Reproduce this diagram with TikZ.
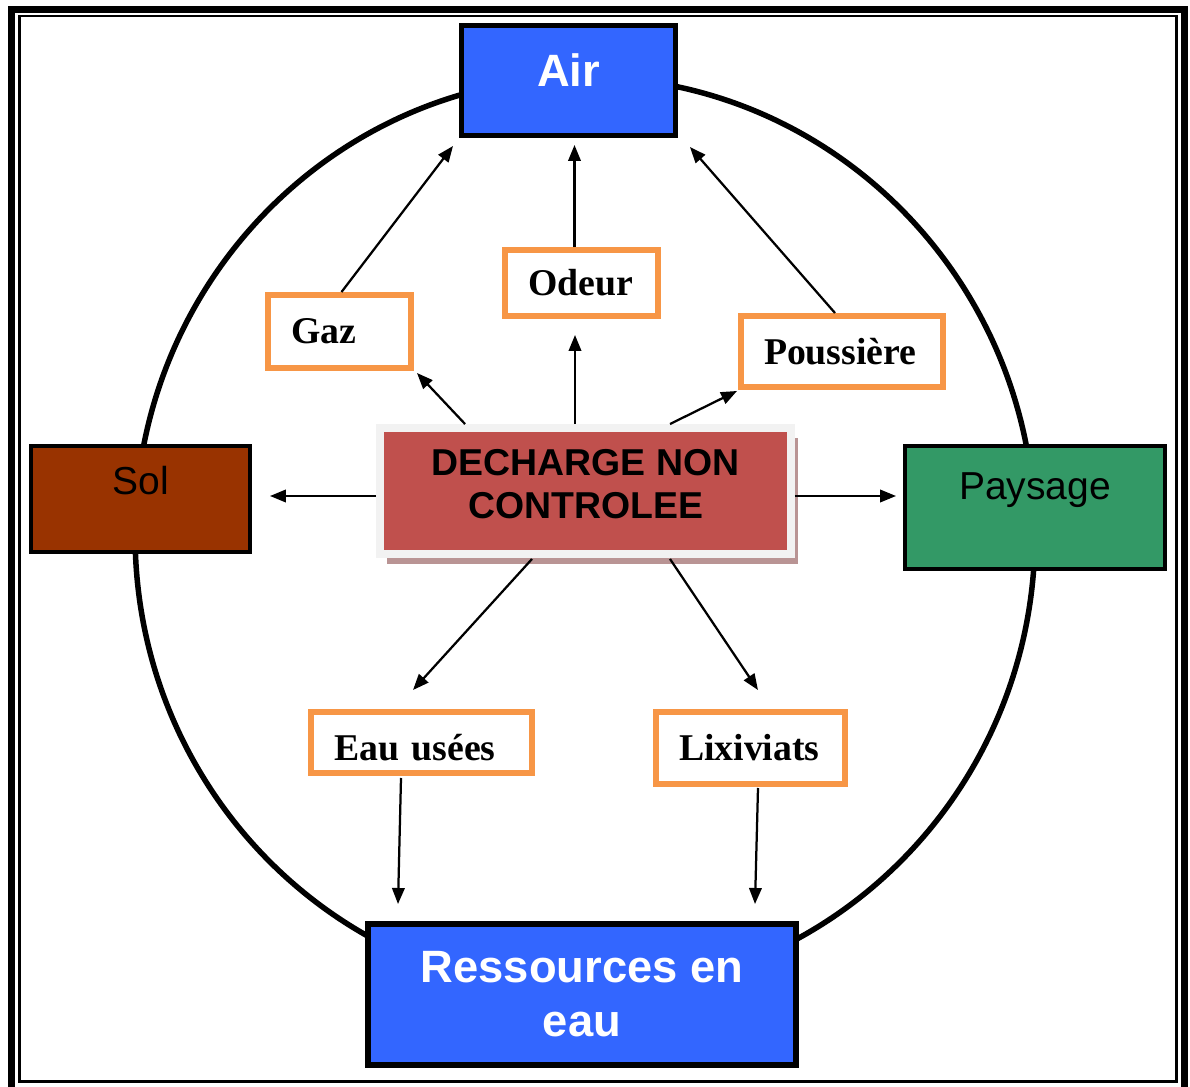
\documentclass[tikz,border=0pt]{standalone}
\usepackage{fontspec}
\setmainfont{Liberation Serif}
\setsansfont{Liberation Sans}
\usepackage{tikz}
\usetikzlibrary{arrows.meta,calc,shadows}
\definecolor{airblue}{RGB}{51,102,255}
\definecolor{solbrown}{RGB}{153,51,0}
\definecolor{paygreen}{RGB}{51,153,102}
\definecolor{dechred}{RGB}{192,80,77}
\definecolor{dechframe}{RGB}{242,242,242}
\definecolor{dechshadow}{RGB}{185,148,148}
\definecolor{effetorange}{RGB}{247,150,70}
\tikzset{
  ring/.style={line width=0.11cm},
  milieu/.style={draw=black, line width=0.1cm, align=center},
  bluebox/.style={milieu, fill=airblue, text=white,
                  font=\sffamily\bfseries\fontsize{25.8pt}{30.6pt}\selectfont},
  sidebox/.style={draw=black, line width=0.08cm,
                  font=\sffamily\fontsize{22.2pt}{26pt}\selectfont},
  source/.style={draw=dechframe, fill=dechred, line width=0.16cm, align=center,
                 font=\sffamily\bfseries\fontsize{21.3pt}{24.4pt}\selectfont,
                 drop shadow={shadow xshift=0.14cm, shadow yshift=-0.2cm,
                              fill=dechshadow, opacity=1}},
  effet/.style={draw=effetorange, fill=white, line width=0.12cm, align=left,
                inner xsep=0.46cm, inner ysep=0pt,
                font=\bfseries\fontsize{21.5pt}{26pt}\selectfont},
  arr/.style={-{Triangle[length=0.32cm,width=0.25cm]}, line width=0.045cm},
}

\begin{document}
\begin{tikzpicture}[x=0.02cm, y=-0.02cm]
  \useasboundingbox (0,0) rectangle (1190,1087);
  % double frame
  \draw[line width=0.14cm] (11.5,1095) -- (11.5,9.5) -- (1184.5,9.5) -- (1184.5,1095);
  \draw[line width=0.05cm] (19.5,16) rectangle (1176.5,1081.5);
  % ring
  \draw[ring] (585,535) ellipse [x radius=9cm, y radius=9.16cm];

  % milieux
  \node[bluebox, minimum width=4.28cm, minimum height=2.2cm,
        text height=0.8cm, text depth=0.54cm] (air) at (568.5,80.5) {Air};
  \node[sidebox, fill=solbrown, minimum width=4.38cm, minimum height=2.12cm,
        text height=0.56cm, text depth=0.76cm] (sol) at (140.5,499) {Sol};
  \node[sidebox, fill=paygreen, minimum width=5.2cm, minimum height=2.46cm,
        text height=0.56cm, text depth=0.9cm] (pays) at (1035,507.5) {Paysage};
  \node[bluebox, line width=0.12cm, minimum width=8.56cm, minimum height=2.82cm]
        (res) at (582,994.5) {Ressources en\\eau};

  % decharge
  \node[source, minimum width=8.22cm, minimum height=2.52cm, text depth=0.3cm]
        (dech) at (585.5,491) {DECHARGE NON\\CONTROLEE};

  % effets
  \node[effet, text width=1.94cm, minimum height=1.46cm] (gaz) at (339.5,331.5) {Gaz};
  \node[effet, text width=2.14cm, minimum height=1.32cm] (odeur) at (581.5,283) {Odeur};
  \node[effet, text width=3.12cm, minimum height=1.42cm] (pous) at (842,351.5) {Poussière};
  \node[effet, text width=3.5cm, minimum height=1.22cm,
        text height=0.9cm, text depth=0.16cm] (eau) at (421.5,742.5) {Eau usées};
  \node[effet, text width=2.86cm, minimum height=1.44cm] (lix) at (750.5,748) {Lixiviats};

  % vers l'air
  \draw[arr] ($(gaz.north)+(2,0)$) -- ($(air.south west)+(-6,8)$);
  \draw[arr] ($(odeur.north)+(-7,0)$) -- ($(air.south)+(6,7)$);
  \draw[arr] ($(pous.north)+(-7,0)$) -- ($(air.south east)+(12,9)$);
  % depuis la decharge
  \draw[arr] ($(dech.north west)+(89,0)$) -- ($(gaz.south east)+(3,2)$);
  \draw[arr] ($(dech.north)+(-10.5,0)$) -- ($(odeur.south)+(-6.5,16)$);
  \draw[arr] ($(dech.north)+(84.5,0)$) -- ($(pous.south west)+(-1,1)$);
  \draw[arr] ($(dech.west)+(0,5)$) -- ($(sol.east)+(18,-3)$);
  \draw[arr] ($(dech.east)+(0,5)$) -- ($(pays.west)+(-7,-11.5)$);
  \draw[arr] ($(dech.south)+(-53.5,1)$) -- ($(eau.north)+(-8.5,-19)$);
  \draw[arr] ($(dech.south)+(84.5,1)$) -- ($(lix.north)+(7.5,-19)$);
  % vers l'eau
  \draw[arr] ($(eau.south)+(-20.5,2)$) -- ($(res.north)+(-184,-17)$);
  \draw[arr] ($(lix.south)+(7.5,1)$) -- ($(res.north)+(173,-17)$);
\end{tikzpicture}
\end{document}
